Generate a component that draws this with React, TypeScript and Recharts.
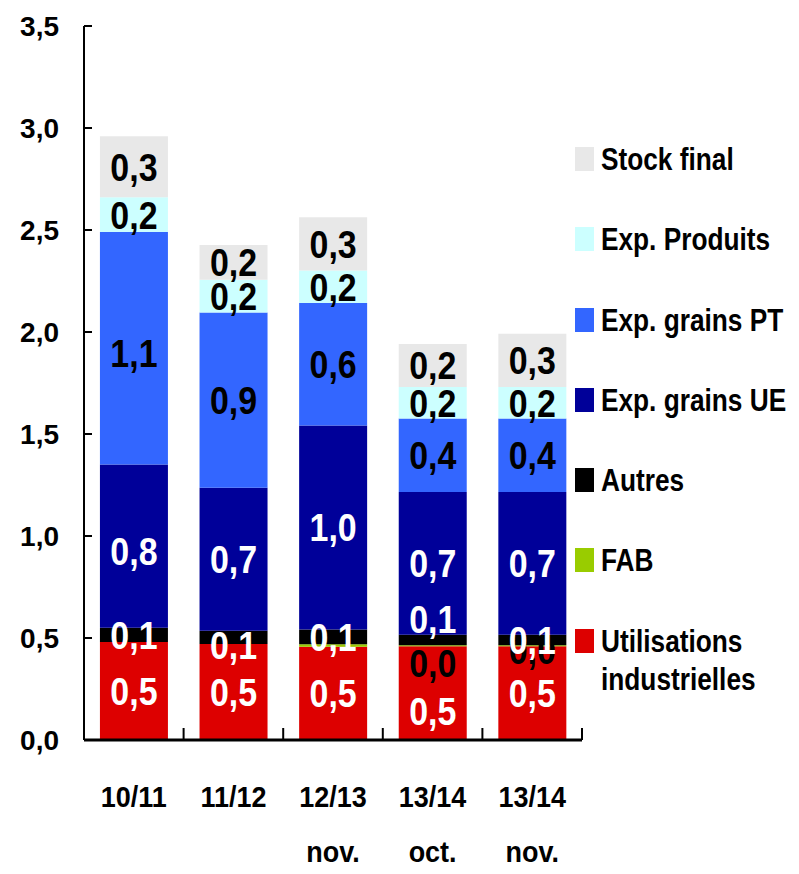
import { BarChart, Bar, XAxis, YAxis, Legend, LabelList } from "recharts";

const CATEGORIES = ["10/11", "11/12", "12/13\nnov.", "13/14\noct.", "13/14\nnov."];

// Mt, stacked from the bottom up
const INDUS = [0.48, 0.47, 0.457, 0.46, 0.46];
const FAB = [0, 0, 0.012, 0.004, 0.004];
const AUTRES = [0.07, 0.066, 0.073, 0.052, 0.052];
const EXP_UE = [0.8, 0.7, 1.0, 0.7, 0.7];
const EXP_PT = [1.14, 0.86, 0.6, 0.36, 0.36];
const EXP_PRODUITS = [0.17, 0.16, 0.16, 0.155, 0.155];
const STOCK = [0.3, 0.17, 0.26, 0.21, 0.26];

const Y_TICKS = [0, 0.5, 1, 1.5, 2, 2.5, 3, 3.5];

const data = CATEGORIES.map((cat, i) => ({
  cat,
  indus: INDUS[i],
  fab: FAB[i],
  autres: AUTRES[i],
  ue: EXP_UE[i],
  pt: EXP_PT[i],
  produits: EXP_PRODUITS[i],
  stock: STOCK[i],
}));

const FONT = '"Liberation Sans", Arial, sans-serif';
const PLOT_LEFT = 84;
const BAND = 498 / CATEGORIES.length;

// label nudges (px) per bar; null hides the label
const SERIES = [
  { key: "indus", name: "Utilisations industrielles", color: "#DD0000", text: "#fff", nudge: [0, 0, 0, 18, 0] },
  { key: "fab", name: "FAB", color: "#99CC00", text: "#000", nudge: [null, null, null, 17, 4] },
  { key: "autres", name: "Autres", color: "#000000", text: "#fff", nudge: [0, 8, 0, -21, 0] },
  { key: "ue", name: "Exp. grains UE", color: "#000099", text: "#fff", nudge: [5, 0, 0, 0, 0] },
  { key: "pt", name: "Exp. grains PT", color: "#3366FF", text: "#000", nudge: [5, 0, 0, 0, 0] },
  { key: "produits", name: "Exp. Produits", color: "#CCFFFF", text: "#000", nudge: [0, 0, 0, 0, 0] },
  { key: "stock", name: "Stock final", color: "#E8E8E8", text: "#000", nudge: [0, 0, 0, 0, 0] },
];

const fmt = (v: number) => v.toFixed(1).replace(".", ",");

// condensed bold value label centred on its segment
const makeLabel = (color: string, nudge: (number | null)[]) => (props: any) => {
  const { x, y, width, height, value } = props;
  // zero-height segments are skipped, so find the category from the bar position
  const cat = Math.floor((x - PLOT_LEFT) / BAND);
  const dy = nudge[cat];
  if (dy === null || dy === undefined) return null;
  const fs = 39;
  const cx = x + width / 2;
  const cy = y + height / 2 + dy + fs * 0.358;
  return (
    <text
      transform={`translate(${cx},${cy}) scale(0.87,1)`}
      textAnchor="middle"
      fill={color}
      fontFamily={FONT}
      fontWeight="bold"
      fontSize={fs}
    >
      {fmt(value)}
    </text>
  );
};

const YTick = ({ x, y, payload }: any) => (
  <g>
    <line x1={x} x2={x + 8} y1={y} y2={y} stroke="#000" strokeWidth={2} />
    <text x={x - 25} y={y + 10} textAnchor="end" fontFamily={FONT} fontWeight="bold" fontSize={28} fill="#000">
      {fmt(payload.value)}
    </text>
  </g>
);

const XTick = ({ x, y, payload, index }: any) => {
  const lines = String(payload.value).split("\n");
  return (
    <g>
      <line x1={x - BAND / 2} x2={x - BAND / 2} y1={y} y2={y - 12} stroke="#000" strokeWidth={2} />
      {index === CATEGORIES.length - 1 && (
        <line x1={x + BAND / 2} x2={x + BAND / 2} y1={y} y2={y - 12} stroke="#000" strokeWidth={2} />
      )}
      {lines.map((l, i) => (
        <text
          key={i}
          transform={`translate(${x},${y + 67 + i * 55}) scale(0.93,1)`}
          textAnchor="middle"
          fontFamily={FONT}
          fontWeight="bold"
          fontSize={29}
          fill="#000"
        >
          {l}
        </text>
      ))}
    </g>
  );
};

// legend lists the stack top-down
const renderLegend = () => (
  <div style={{ fontFamily: FONT, fontWeight: "bold", fontSize: 32, color: "#000" }}>
    {[...SERIES].reverse().map((s) => (
      <div key={s.key} style={{ display: "flex", alignItems: "flex-start", height: 80.3, lineHeight: "38px" }}>
        <span style={{ width: 19, height: 24, marginTop: 7, background: s.color, flex: "none" }} />
        <span
          style={{
            marginLeft: 7,
            width: 240,
            flex: "none",
            transform: "scaleX(0.82)",
            transformOrigin: "left center",
            whiteSpace: "pre-line",
          }}
        >
          {s.key === "indus" ? "Utilisations\nindustrielles" : s.name}
        </span>
      </div>
    ))}
  </div>
);

export default function App() {
  return (
    <div style={{ position: "absolute", left: 0, top: 0, width: 799, height: 874, background: "#fff" }}>
      <BarChart width={799} height={874} data={data} margin={{ top: 26, right: 217, left: 0, bottom: 0 }} barCategoryGap="16%">
        <XAxis
          dataKey="cat"
          height={134}
          interval={0}
          tickLine={false}
          tickSize={0}
          tickMargin={0}
          axisLine={{ stroke: "#000", strokeWidth: 3 }}
          tick={<XTick />}
        />
        <YAxis
          width={84}
          domain={[0, 3.5]}
          ticks={Y_TICKS}
          interval={0}
          tickLine={false}
          tickSize={0}
          tickMargin={0}
          axisLine={{ stroke: "#000", strokeWidth: 2 }}
          tick={<YTick />}
        />
        <Legend
          layout="horizontal"
          verticalAlign="middle"
          align="center"
          content={renderLegend}
          wrapperStyle={{ left: 575, top: 140, width: 224 }}
        />
        {SERIES.map((s) => (
          <Bar key={s.key} dataKey={s.key} name={s.name} stackId="a" fill={s.color} isAnimationActive={false}>
            <LabelList dataKey={s.key} content={makeLabel(s.text, s.nudge)} />
          </Bar>
        ))}
      </BarChart>
    </div>
  );
}
